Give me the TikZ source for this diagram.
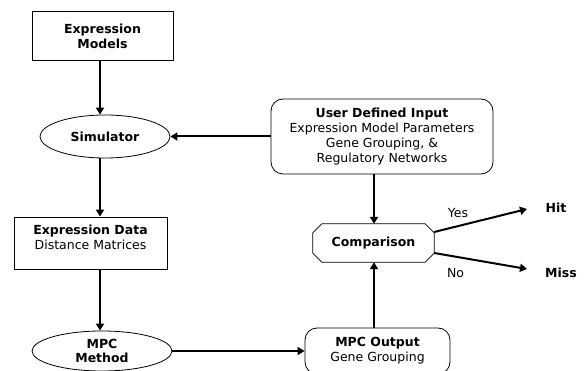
\documentclass[tikz,border=0pt]{standalone}
\usepackage{fontspec}
\setmainfont{DejaVu Sans}
\usetikzlibrary{shapes.geometric,arrows.meta}
\begin{document}
\begin{tikzpicture}[x=1pt,y=-1pt,
  every node/.style={font=\fontsize{12.5}{14.8}\selectfont, align=center, inner sep=0pt},
  box/.style={draw, line width=0.8pt, rectangle},
  rbox/.style={box, rounded corners=12pt},
  oval/.style={draw, line width=0.8pt, ellipse},
  outline/.style={draw, line width=0.8pt},
  flow/.style={line width=2pt, -{Triangle[length=7pt,width=8pt]}},
]
\useasboundingbox (0,0) rectangle (584,371);
\clip (0,0) rectangle (584,371);

% boxes and ovals
\node[box, minimum width=141pt, minimum height=49pt] (em) at (102.5,36)
  {\textbf{Expression}\\\textbf{Models}};
\node[oval, minimum width=130pt, minimum height=43pt] (sim) at (105,136.5)
  {\textbf{Simulator}};
\node[rbox, minimum width=222pt, minimum height=75pt] (udi) at (382,136.5)
  {\textbf{User Defined Input}\\Expression Model Parameters\\Gene Grouping, \&\\Regulatory Networks};
\node[box, minimum width=153pt, minimum height=52pt] (ed) at (90.5,243) {};
\node (edt) at ([yshift=5.5pt]ed.center) {\textbf{Expression Data}\\Distance Matrices};
\node[oval, minimum width=140pt, minimum height=40pt] (mm) at (102,351)
  {\textbf{MPC}\\\textbf{Method}};
\node[rbox, minimum width=145pt, minimum height=46pt] (mo) at (377.5,351)
  {\textbf{MPC Output}\\Gene Grouping};

% comparison: octagon drawn round a plain node
\node[minimum width=121pt, minimum height=38pt] (cmp) at (373.5,243) {\textbf{Comparison}};
\draw[outline] ([xshift=9pt]cmp.north west) -- ([xshift=-9pt]cmp.north east)
  -- ([yshift=-9pt]cmp.north east) -- ([yshift=9pt]cmp.south east)
  -- ([xshift=-9pt]cmp.south east) -- ([xshift=9pt]cmp.south west)
  -- ([yshift=9pt]cmp.south west) -- ([yshift=-9pt]cmp.north west) -- cycle;

% outcomes
\node (hit) at (556,208) {\textbf{Hit}};
\node (miss) at (561,273) {\textbf{Miss}};
\node (yes) at (458,213) {Yes};
\node (no) at (455.5,273) {No};
\coordinate (hitend) at (527,209);
\coordinate (missend) at (527,269);

% connector columns
\coordinate (colL) at (100,0);
\coordinate (colR) at (374,0);

\draw[flow] (em.south -| colL) -- (sim.north -| colL);
\draw[flow] (sim.south -| colL) -- (ed.north -| colL);
\draw[flow] (ed.south -| colL) -- (mm.north -| colL);
\draw[flow] (udi.west) -- (sim.east);
\draw[flow] (mm.east) -- (mo.west);
\draw[flow] (udi.south -| colR) -- (cmp.north -| colR);
\draw[flow] (mo.north -| colR) -- (cmp.south -| colR);
\draw[flow] ([yshift=11pt]cmp.east) -- (hitend);
\draw[flow] ([yshift=-10pt]cmp.east) -- (missend);
\end{tikzpicture}
\end{document}
